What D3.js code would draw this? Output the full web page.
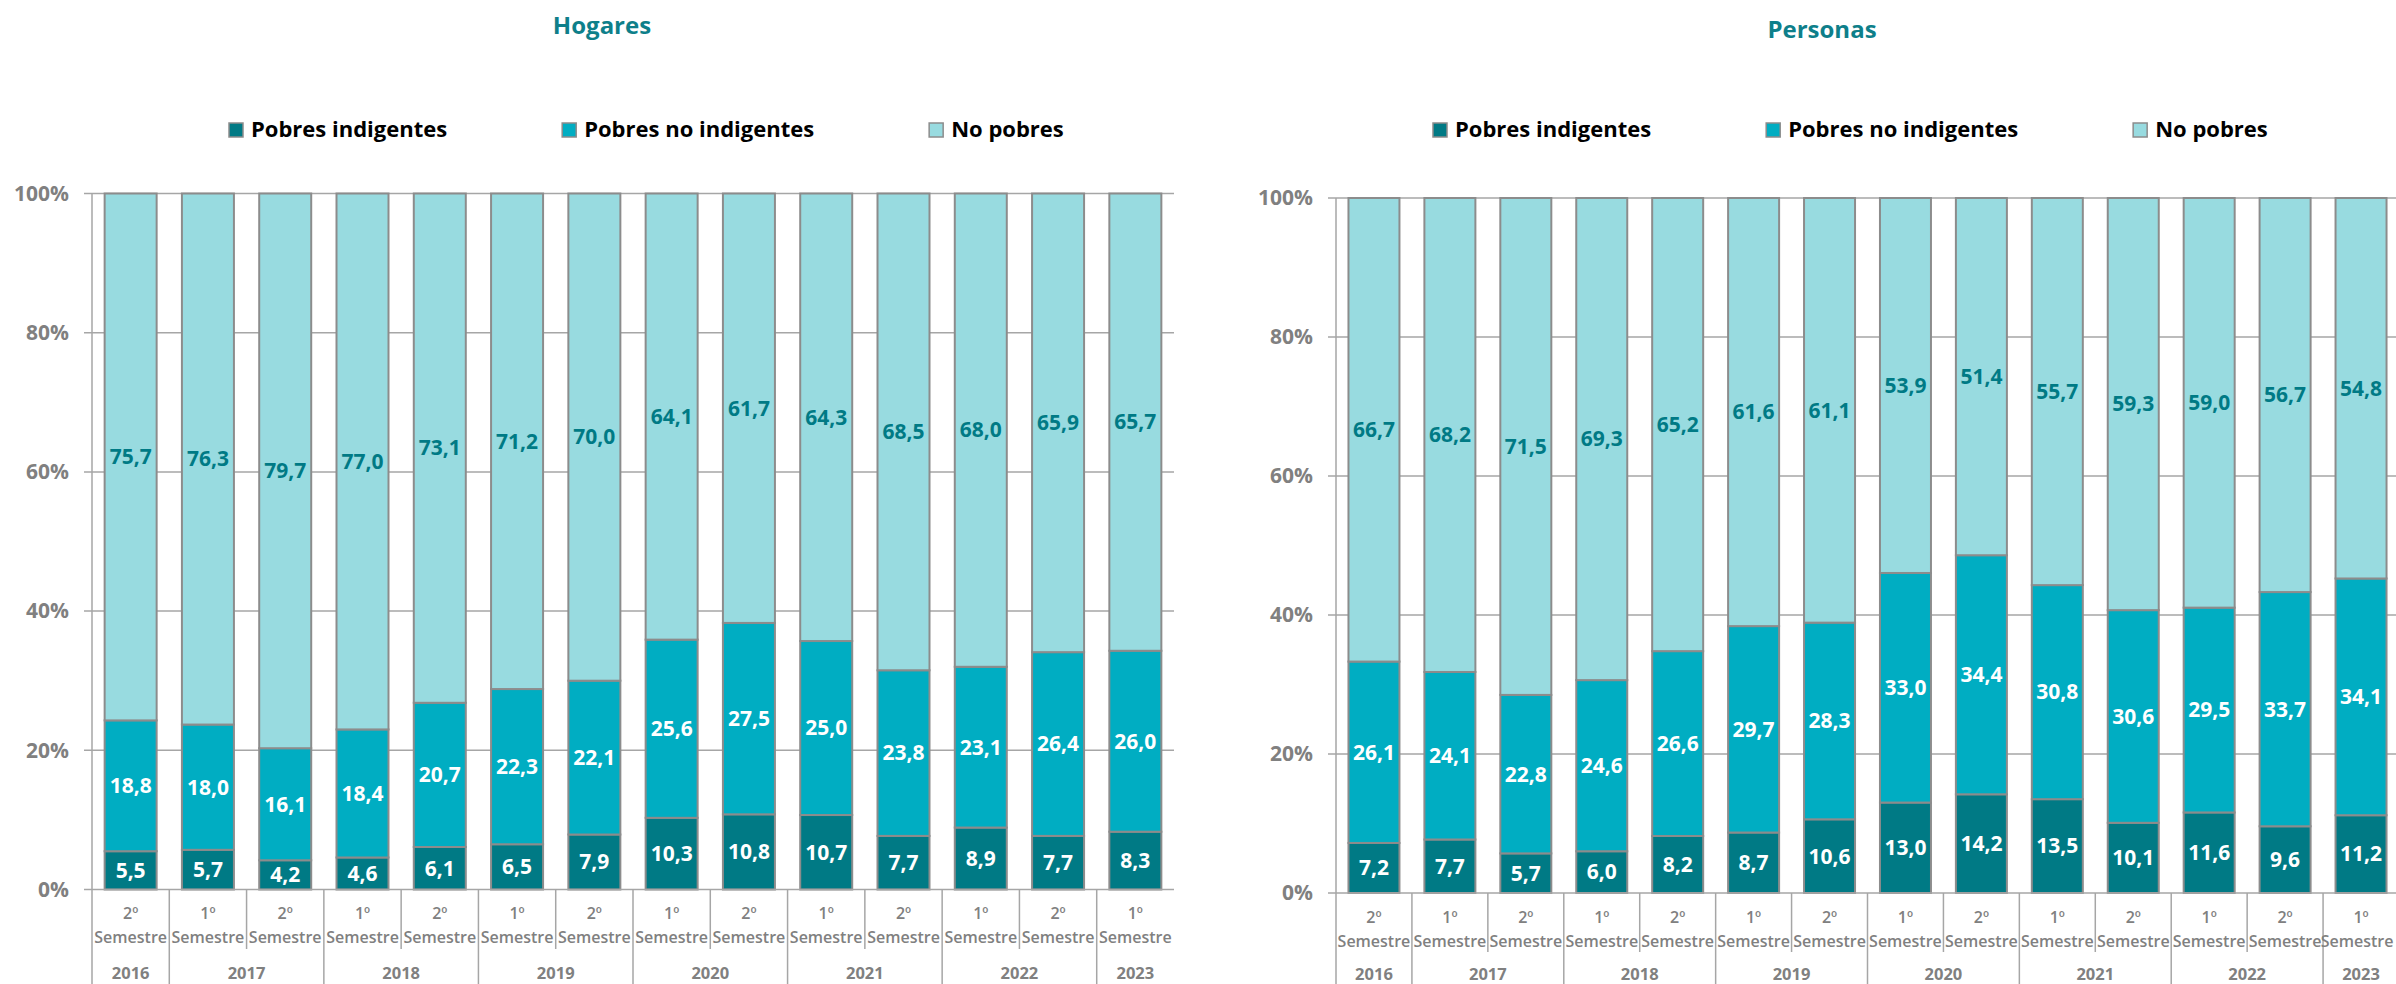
<!DOCTYPE html>
<html>
<head>
<meta charset="utf-8">
<script src="https://cdn.jsdelivr.net/npm/d3@7"></script>
<style>
  html, body { margin: 0; padding: 0; background: #ffffff; }
  svg { display: block; font-family: "Open Sans", "DejaVu Sans", sans-serif; }
</style>
</head>
<body>
<svg id="chart" width="2396" height="984"></svg>
<script>
// ---------- Data ----------
const semesters = ["2º","1º","2º","1º","2º","1º","2º","1º","2º","1º","2º","1º","2º","1º"];
const categoryYears = ["2016","2017","2017","2018","2018","2019","2019","2020","2020","2021","2021","2022","2022","2023"];
const seriesNames = ["Pobres indigentes","Pobres no indigentes","No pobres"];
const yTicks = [0, 20, 40, 60, 80, 100];

const hogaresIndigentes   = [5.5, 5.7, 4.2, 4.6, 6.1, 6.5, 7.9, 10.3, 10.8, 10.7, 7.7, 8.9, 7.7, 8.3];
const hogaresNoIndigentes = [18.8, 18.0, 16.1, 18.4, 20.7, 22.3, 22.1, 25.6, 27.5, 25.0, 23.8, 23.1, 26.4, 26.0];
const hogaresNoPobres     = [75.7, 76.3, 79.7, 77.0, 73.1, 71.2, 70.0, 64.1, 61.7, 64.3, 68.5, 68.0, 65.9, 65.7];

const personasIndigentes   = [7.2, 7.7, 5.7, 6.0, 8.2, 8.7, 10.6, 13.0, 14.2, 13.5, 10.1, 11.6, 9.6, 11.2];
const personasNoIndigentes = [26.1, 24.1, 22.8, 24.6, 26.6, 29.7, 28.3, 33.0, 34.4, 30.8, 30.6, 29.5, 33.7, 34.1];
const personasNoPobres     = [66.7, 68.2, 71.5, 69.3, 65.2, 61.6, 61.1, 53.9, 51.4, 55.7, 59.3, 59.0, 56.7, 54.8];

// ---------- Styles ----------
const colors = ["#007A85", "#00ADC2", "#98DBE0"];
const labelColors = ["#FFFFFF", "#FFFFFF", "#007A85"];
const gray = "#8C8C8C";
const gridGray = "#A6A6A6";
const textGray = "#808080";
const titleColor = "#0E7F8A";

const svg = d3.select("#chart");
const fmt = v => d3.format(".1f")(v).replace(".", ",");

const panels = [
  { title: "Hogares", series: [hogaresIndigentes, hogaresNoIndigentes, hogaresNoPobres],
    x0: 92, x1: 1174, yTop: 193.5, yBot: 889.5, titleX: 602, titleY: 34, legendX: 229, legendY: 137,
    semY: 919, semestreY: 943, yearY: 979, sepEnd: 949, barW: 52 },
  { title: "Personas", series: [personasIndigentes, personasNoIndigentes, personasNoPobres],
    x0: 1336, x1: 2399, yTop: 198, yBot: 893, titleX: 1822, titleY: 38, legendX: 1433, legendY: 137,
    semY: 923, semestreY: 947, yearY: 980, sepEnd: 952, barW: 51 }
];

panels.forEach(p => {
  const g = svg.append("g");
  const n = semesters.length;
  const x = d3.scaleBand().domain(d3.range(n)).range([p.x0, p.x1]);
  const step = x.step();
  const y = d3.scaleLinear().domain([0, 1]).range([p.yBot, p.yTop]);
  const yPct = d3.scaleLinear().domain([0, 100]).range([p.yBot, p.yTop]);

  // Title
  g.append("text").attr("x", p.titleX).attr("y", p.titleY)
    .attr("text-anchor", "middle").attr("font-size", 24).attr("font-weight", 700)
    .attr("fill", titleColor).text(p.title);

  // Legend
  let lx = p.legendX;
  seriesNames.forEach((name, i) => {
    g.append("rect").attr("x", lx).attr("y", p.legendY - 14).attr("width", 14).attr("height", 14)
      .attr("fill", colors[i]).attr("stroke", gray).attr("stroke-width", 1.5);
    const t = g.append("text").attr("x", lx + 22).attr("y", p.legendY)
      .attr("font-size", 22).attr("font-weight", 700).attr("fill", "#000").text(name);
    lx = lx + 22 + t.node().getComputedTextLength() + 115;
  });

  // Gridlines
  g.selectAll(".grid").data(yTicks.filter(d => d > 0)).enter().append("line")
    .attr("x1", p.x0 - 8).attr("x2", p.x1)
    .attr("y1", d => yPct(d)).attr("y2", d => yPct(d))
    .attr("stroke", gridGray).attr("stroke-width", 1.5);

  // Y tick labels
  g.selectAll(".ylab").data(yTicks).enter().append("text")
    .attr("x", p.x0 - 23).attr("y", d => yPct(d)).attr("dy", "0.35em")
    .attr("text-anchor", "end").attr("font-size", 21).attr("font-weight", 700)
    .attr("fill", textGray).text(d => d + "%");

  // 100% stacked data via d3.stack
  const rows = d3.range(n).map(i => ({ i, s0: p.series[0][i], s1: p.series[1][i], s2: p.series[2][i] }));
  const stacked = d3.stack().keys(["s0", "s1", "s2"]).offset(d3.stackOffsetExpand)(rows);
  const segs = [];
  stacked.forEach((layer, k) => layer.forEach((d, i) => segs.push({ i, k, y0: d[0], y1: d[1], v: p.series[k][i] })));
  const bw = p.barW;

  g.selectAll(".seg").data(segs).enter().append("rect")
    .attr("x", d => x(d.i) + (step - bw) / 2)
    .attr("width", bw)
    .attr("y", d => y(d.y1))
    .attr("height", d => y(d.y0) - y(d.y1))
    .attr("fill", d => colors[d.k])
    .attr("stroke", gray).attr("stroke-width", 2);

  // Axis lines
  g.append("line").attr("x1", p.x0 - 8).attr("x2", p.x1).attr("y1", p.yBot).attr("y2", p.yBot)
    .attr("stroke", gridGray).attr("stroke-width", 1.5);
  g.append("line").attr("x1", p.x0).attr("x2", p.x0).attr("y1", p.yTop).attr("y2", 984)
    .attr("stroke", gridGray).attr("stroke-width", 1.5);

  // Category separators
  d3.range(1, n).forEach(i => {
    const isYear = categoryYears[i] !== categoryYears[i - 1];
    g.append("line").attr("x1", x(i)).attr("x2", x(i))
      .attr("y1", p.yBot).attr("y2", isYear ? 984 : p.sepEnd)
      .attr("stroke", gridGray).attr("stroke-width", 1.5);
  });

  // Data labels
  g.selectAll(".lab").data(segs).enter().append("text")
    .attr("x", d => x(d.i) + step / 2)
    .attr("y", d => y((d.y0 + d.y1) / 2)).attr("dy", "0.35em")
    .attr("text-anchor", "middle").attr("font-size", 21).attr("font-weight", 700)
    .attr("fill", d => labelColors[d.k]).text(d => fmt(d.v));

  // Category labels
  g.selectAll(".sem").data(semesters).enter().append("text")
    .attr("x", (d, i) => x(i) + step / 2).attr("y", p.semY)
    .attr("text-anchor", "middle").attr("font-size", 16).attr("font-weight", 600)
    .attr("fill", textGray).text(d => d);
  g.selectAll(".semw").data(semesters).enter().append("text")
    .attr("x", (d, i) => Math.min(x(i) + step / 2, 2357)).attr("y", p.semestreY)
    .attr("text-anchor", "middle").attr("font-size", 16).attr("font-weight", 600)
    .attr("fill", textGray).text("Semestre");

  // Year group labels
  const groups = [];
  categoryYears.forEach((yr, i) => {
    if (groups.length && groups[groups.length - 1].year === yr) groups[groups.length - 1].end = i;
    else groups.push({ year: yr, start: i, end: i });
  });
  g.selectAll(".yr").data(groups).enter().append("text")
    .attr("x", d => (x(d.start) + x(d.end) + step) / 2).attr("y", p.yearY)
    .attr("text-anchor", "middle").attr("font-size", 16.5).attr("font-weight", 700)
    .attr("fill", textGray).text(d => d.year);
});
</script>
</body>
</html>
